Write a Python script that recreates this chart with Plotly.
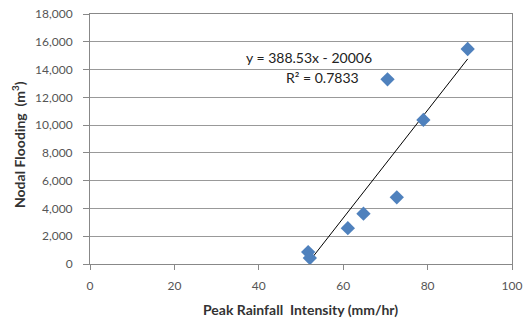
import plotly.graph_objects as go

# Data
rainfall = [51.7, 52.1, 61.1, 64.8, 72.7, 79.0, 70.5, 89.5]
flooding = [860, 430, 2580, 3620, 4800, 10370, 13300, 15480]
slope = 388.53
intercept = -20006
x_ticks = [0, 20, 40, 60, 80, 100]
y_ticks = [0, 2000, 4000, 6000, 8000, 10000, 12000, 14000, 16000, 18000]

x_line = [min(rainfall), max(rainfall)]
y_line = [slope * v + intercept for v in x_line]

fig = go.Figure()
fig.add_trace(go.Scatter(x=x_line, y=y_line, mode="lines",
                         line=dict(color="black", width=1), hoverinfo="skip"))
fig.add_trace(go.Scatter(x=rainfall, y=flooding, mode="markers",
                         marker=dict(symbol="diamond", size=11, color="#4F81BD",
                                     line=dict(width=0))))

font_family = "Lato, Carlito, 'Open Sans', sans-serif"
fig.add_annotation(x=0.519, y=0.828, xref="paper", yref="paper",
                   xanchor="center", yanchor="middle",
                   text="y = 388.53x - 20006", showarrow=False,
                   font=dict(size=14, color="#222", family=font_family))
fig.add_annotation(x=0.55, y=0.745, xref="paper", yref="paper",
                   xanchor="center", yanchor="middle",
                   text="R² = 0.7833", showarrow=False,
                   font=dict(size=14, color="#222", family=font_family))
# axis titles
fig.add_annotation(x=0.498, y=-0.18, xref="paper", yref="paper",
                   xanchor="center", yanchor="middle",
                   text="<b>Peak Rainfall  Intensity (mm/hr)</b>", showarrow=False,
                   font=dict(size=14, color="#333", family=font_family))
fig.add_annotation(x=-0.1706, y=0.476, xref="paper", yref="paper",
                   xanchor="center", yanchor="middle", textangle=-90,
                   text="<b>Nodal Flooding  (m<sup>3</sup>)</b>", showarrow=False,
                   font=dict(size=14, color="#333", family=font_family))

fig.update_layout(
    width=523, height=322,
    margin=dict(l=90, r=11, t=14, b=58, autoexpand=False),
    plot_bgcolor="white", paper_bgcolor="white",
    showlegend=False,
    font=dict(family=font_family, size=12, color="#555"),
    xaxis=dict(range=[0, 100], tickvals=x_ticks, showgrid=False,
               showline=True, linecolor="#888", linewidth=1, mirror=True,
               ticks="outside", ticklen=5, tickcolor="#888",
               ticklabelstandoff=6,
               zeroline=False, automargin=False),
    yaxis=dict(range=[0, 18000], tickvals=y_ticks, tickformat=",d",
               showgrid=True, gridcolor="#999", gridwidth=1,
               showline=True, linecolor="#888", linewidth=1, mirror=True,
               ticks="outside", ticklen=6, tickcolor="#888",
               ticklabelstandoff=8,
               zeroline=False, automargin=False),
)

fig.write_html("out.html", config={"displayModeBar": False},
               post_script="document.body.style.margin='0';")
